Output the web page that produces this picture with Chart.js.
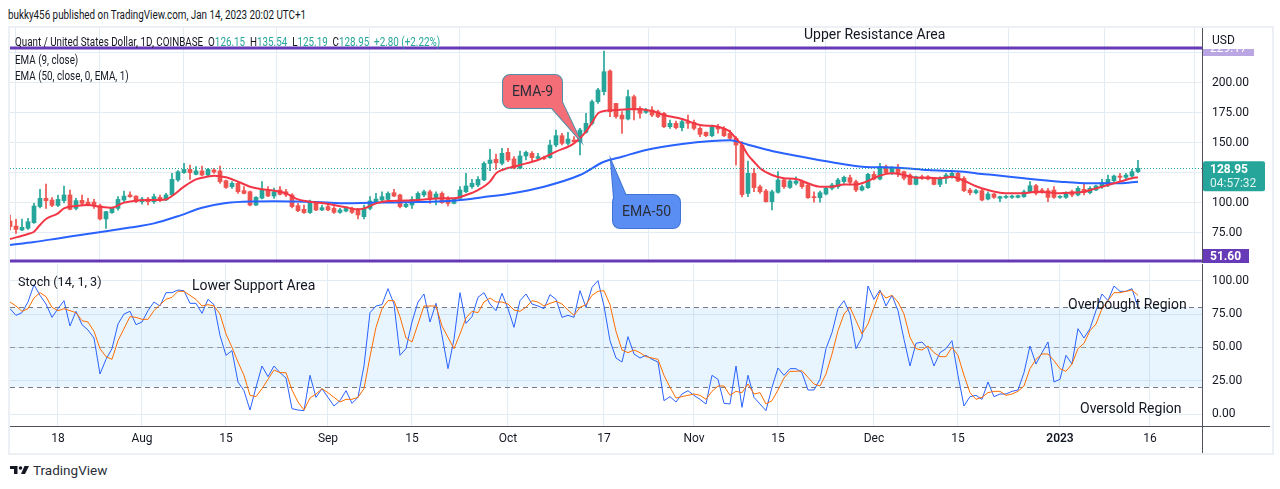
<!DOCTYPE html>
<html>
<head>
<meta charset="utf-8">
<script src="https://cdn.jsdelivr.net/npm/chart.js@4.4.1/dist/chart.umd.min.js"></script>
<style>
body{margin:0;background:#fff;width:1280px;height:489px;position:relative;overflow:hidden;font-family:Roboto,"Noto Sans",sans-serif;color:#131722}
.t{position:absolute;white-space:nowrap;font-size:12px;line-height:14px;z-index:5}
.n{transform:scaleX(0.82);transform-origin:0 0}
.b{font-size:14px;line-height:16px}
.g{color:#26a69a}
canvas{position:absolute}
#frame{position:absolute;left:8px;top:26px;width:1262px;height:425px;border:2px solid #eceff4}
</style>
</head>
<body>
<div id="frame"></div>
<canvas id="main" width="1260" height="235" style="left:10px;top:28px"></canvas>
<canvas id="stoch" width="1260" height="189" style="left:10px;top:264px"></canvas>

<div class="t n" style="left:8px;top:8px">bukky456 published on TradingView.com, Jan 14, 2023 20:02 UTC+1</div>
<div class="t n" style="left:15px;top:35px">Quant / United States Dollar, 1D, COINBASE&nbsp; O<span class="g">126.15</span>&nbsp; H<span class="g">135.54</span>&nbsp; L<span class="g">125.19</span>&nbsp; C<span class="g">128.95</span>&nbsp; <span class="g">+2.80 (+2.22%)</span></div>
<div class="t n" style="left:15px;top:53px">EMA (9, close)</div>
<div class="t n" style="left:15px;top:69px">EMA (50, close, 0, EMA, 1)</div>
<div class="t b" style="left:804px;top:26px">Upper Resistance Area</div>
<div class="t" style="left:18px;top:275px;font-size:12.6px">Stoch (14, 1, 3)</div>
<div class="t b" style="left:192px;top:277px">Lower Support Area</div>
<div class="t b" style="left:1068px;top:296px">Overbought Region</div>
<div class="t b" style="left:1080px;top:400px">Oversold Region</div>
<svg style="position:absolute;left:10px;top:466px" width="20" height="8" viewBox="0 0 40 16">
  <path d="M15 16H8V6H0V0h15v16zM30 16h-8L29 0h9L30 16z" fill="#131722"/>
  <circle cx="21" cy="4" r="3.6" fill="#131722"/>
</svg>
<div class="t" style="left:33px;top:462px;font-size:13.5px;line-height:16px;color:#2a2e39">TradingView</div>

<script>
// day index 0 = Jul 18 2022, one candle per day
var firstDay = -8;

var opens = [85,80.8,77.5,78.9,83.6,97,103.9,102.5,
  98,102,106.7,95.5,102.2,100.8,100.8,97.8,86.7,92,
  95.5,102.5,106.7,105.8,101.1,103.3,101.1,104.7,102.5,106.7,
  119.2,125.3,128,123.9,126.7,123.3,127.5,126.7,118.6,113.6,
  116.4,110.3,109.4,98.3,104,110.8,105.8,110.8,109.4,106.7,
  97.8,94.7,92,100.3,94.2,97,95.5,92.2,93.3,95.5,
  94.7,88.6,95.5,100.3,102.5,103,108.6,106.7,97,98.3,
  103,106.7,109.4,103.9,108,103.9,99.7,103.9,109.4,113.6,
  115,119.2,133,136.4,133,142.2,136.7,128.9,139.2,141.4,
  137.2,137.5,137.8,148.3,156.1,149.7,152.5,151.1,158.9,166.4,
  184.4,192.8,210,183,173.3,170,188.6,178.9,175.5,177.5,
  176.1,174.7,163.6,166.4,162.8,167.8,167.2,162.2,158.9,156.1,
  163.6,162.2,158,153.9,148.3,108,124.7,113.6,110,101.1,
  108.9,119.2,113,116.4,117.8,115,105.3,104.4,107.5,112.2,
  113.6,117.8,121.1,117.8,110.8,112.8,123.9,120,130.3,124.7,
  128.9,126.1,123.3,115.5,121.9,121.9,120.6,115.5,120.6,122,
  124.7,120.6,110.8,108.6,110.3,103.3,107.5,103.9,104.7,104.7,
  104.7,105.3,109.4,114.4,110.8,110.3,110.8,104.7,104.7,109.4,
  106.7,111.4,108.6,110.8,113.6,115,118.6,122.5,121.4,122.5,126.15];

var highs = [90,86.4,86.7,87.2,99.7,111.4,115.8,104.5,
  106.7,114,110.8,103.9,106.7,103.9,103,99,93,96.5,
  105.3,110,109.4,106,104.7,104.7,107.5,106.7,108,124.7,
  127,133,131.7,130.3,130.8,128.9,128.9,130.8,119.2,117.8,
  117.8,113.6,110,105.3,117.8,113.6,112.5,113.6,111.4,107.8,
  99.7,98.3,102.5,101.1,98.3,99.7,97,95.5,96.9,96.5,
  95.5,98.3,105.3,108,109.4,109.4,111.4,107.5,100.3,105.3,
  109.4,110.8,110.8,109.4,109.4,105.3,103.9,113.6,124.7,119.7,
  122,134.4,144.7,140.8,145.6,145.6,138.6,143.3,143.3,142.8,
  141.4,139.2,152.5,160.8,158.1,158.9,155.3,162.2,174.7,185.8,
  195.6,226.7,211,183,176.1,194.2,190,180.3,178.9,180.3,
  177.5,175.5,169.2,168.3,170.6,173.3,169.2,163.6,159.4,165,
  165.6,163.6,160.8,155.3,151.1,135,128.9,115,111.4,110.8,
  126.1,120.6,120.6,121.9,119.2,115.5,109.4,110,113.6,116.4,
  120.6,122.5,123.3,119.2,115,124.7,126.1,133,131.7,130.3,
  132.2,126.7,124.4,122.5,123.3,122.8,121.4,121.9,124.7,127.5,
  126.1,122,112.2,111.4,111.4,109.4,108,105.8,106.7,106.7,
  106.7,110.8,117.8,115.5,112.2,112.2,113.6,106.1,109.4,110.8,
  113.6,116.4,113.6,115,119.7,123.3,123.3,124.7,124.7,128,135.54];

var lows = [77.5,74.7,76.9,78,83,96,95.5,97,
  97,100,94.2,94.2,97.5,97.5,95.5,86,78.9,91.4,
  94,101,104.7,100.3,99,98.3,99.7,101.1,101.9,106.7,
  118,124.7,119.7,123.3,122.5,122.5,124.7,116.4,112.2,112.2,
  108,107.5,97.5,97.8,103.3,105.3,103.9,106.7,105.3,96,
  92.8,91.4,91.4,93.6,93.6,93.6,91.4,91.4,92.5,91.4,
  86.7,86.7,94.2,99.7,101.1,102.5,105.3,96,96.1,95.5,
  101.1,105.3,99.7,98.3,99.7,97.5,99.2,103,108.6,112.2,
  113.6,118.6,127,128,131.7,134.4,128.3,128.3,135.8,134.4,
  135.8,136.1,137.2,147,148.3,148.3,150.6,140,158.1,165,
  183,190,172,170.6,158,169.2,169.2,170.6,174.7,172,
  171.1,162.8,162.2,161.7,160,162.2,160.8,155.3,155.3,155.3,
  158.1,155.3,152.5,131.7,105,105.3,109.4,108,100.6,94.2,
  108.1,112.2,112.2,115,112.2,103.9,100.6,100.6,106.7,110.8,
  112.2,116.4,115,109.4,110,112.2,119.2,119.2,124.7,123.9,
  121.9,119.2,115,115,119.7,119.2,115,113.6,116.4,120.6,
  117.8,109.4,106.7,107.5,101.7,102.5,103.9,101.1,103.9,103.9,
  104.2,104.7,108.6,106.7,108.1,101.1,103.9,103.9,103.9,105.3,
  105.8,106.7,107.5,110.3,112.2,113.6,117.8,117.8,119.7,121.4,125.19];

var closes = [80.3,78,79.7,84.4,97.5,103.9,101.9,98,
  103,106.7,94.7,102,99.7,98.3,98.3,86.7,92.8,95.5,
  103,105.8,105.3,101.1,103.3,101.1,105.3,102,106.7,119.7,
  126.1,128,125.3,126.7,123.3,128,125.8,117.8,113,116.4,
  109.4,108,98.3,104.7,110.8,105.8,109.4,107.2,106.7,97,
  93.6,92,101.1,94.2,96.1,94.2,92.2,94.2,95.5,92.2,
  90,95.5,101.7,103.3,105.3,108,105.8,97,98.9,103,
  108,109.4,103.9,107.5,100.3,99.7,103.9,110.8,114.2,116.4,
  119.7,133,135.8,133.6,141.4,135.8,128.9,139.2,142.2,137.8,
  138.6,136.9,148.3,156.1,149.7,153.3,151.1,160.8,166.4,184.4,
  194.2,209.4,176.1,172,170,188.6,177.5,174.7,177.5,173.3,
  172,163.6,166.4,162.8,167.8,166.4,162.2,157.2,156.1,163.6,
  161.7,156.1,153.9,148.3,107,124.7,112.8,109.4,101.1,109.4,
  119.2,113.6,118.3,118.3,113.6,104.4,104.4,108.6,112.2,115,
  119.2,121.4,117.2,110.8,113.6,123.9,120,130.3,125.3,129.4,
  124.7,120.6,115.5,121.9,120.6,120,115.5,120.6,123.3,124.7,
  118.3,110.3,108.6,110.3,102.5,107.5,104.7,105.3,105.3,105.8,
  106.1,109.4,114.4,108.1,109.4,104.7,104.7,105.3,108.6,106.7,
  112.2,108.6,112.2,114.2,116.9,119.7,122.5,121.4,123.3,126.1,128.95];

var ema9Days = [-8,-5,-4,-3,-2,0,1,3,5,7,9,11,13,15,18,19,21,23,25,26,28,30,32,34,36,38,40,42,45,48,
  50,51,53,55,58,61,64,66,68,70,72,73,74,77,80,83,86,88,89,90,91,93,96,99,101,104,107,110,112,113,
  114,115,116,117,119,121,123,125,127,129,131,133,135,137,139,141,143,145,147,149,151,153,155,157,159,
  161,163,165,167,169,171,173,175,177,179,180];
var ema9 = [70,74.2,76.1,81.7,86.7,91.4,95.5,97.5,98.3,96.9,96.1,100.3,102,102.5,103,105.8,113.6,119.7,122,122.8,
  121.4,117.8,113.6,111.4,110.3,108,103,101.1,99.2,96.4,94.7,95.5,99.7,101.7,102,103,103.9,103.9,106.7,110.8,
  117.8,124.7,127.5,131.7,135.8,142.8,149.7,159.4,167,174.7,176.7,177.5,178.3,176.7,173.3,170,165,163.6,159.4,153.9,
  148.3,140,134.4,128.9,123.3,120.6,120,116.4,113.6,113.6,115.5,115.5,118.3,122.8,124.7,123.3,121.1,121.1,120.6,121.9,
  118.5,114,110.8,108.6,108.1,108.1,109.4,108.9,108.1,108.6,109.4,112.2,115,117.8,120.6,121.4];

var ema50Days = [-8,-4,0,4,8,12,16,20,24,28,32,36,40,44,48,52,56,60,64,68,71,75,81,87,91,
  94,98,104,109,112,115,119,123,129,134,140,145,151,154,156,161,167,172,177,180];
var ema50 = [65,67.5,70.5,73.5,76.5,79.5,83,89,96,100,101.3,101.5,101.2,100.6,99.8,100.2,100.5,100.8,101.5,103,
  105,107.5,113.6,123.3,134.4,138.6,144.2,149.2,151.7,152.3,148.6,143.3,139.4,133.9,130.3,129.4,127.5,126.1,124.2,123.3,
  120.6,117.8,116.4,116.4,117.8];

var stochK = [79,74,76,84,97,89,82.5,72.5,
  79,85,66,77,67,63,57,30,41,49,
  67.5,75,77,67,69,77.5,84,81,91,91,
  93,92.5,83,83,75.5,86,82,59,44,47.5,
  24,17.5,3,20,36,28,36,31,27,4,
  3,2.5,29,12.5,19,12.5,6,10,17.5,8,
  12.5,36,76,81,82,94,82.5,44,49,69,
  84,90,69,83,59,34,56,91,68,73,
  87.5,91,82.5,77.5,90.5,79,65,85,90,82.5,
  81,79,89.5,86,72.5,74,72.5,92.5,80,95,
  100,81,55,42,39,58,45,42,44,41,
  39,10,13,9,15,17.5,14,11,7.5,29,
  26,8,7.5,36,5,29,12.5,7.5,2.5,20,
  34.5,29,34,34,31,18,18,26,49,61,
  79,85,75,49,57.5,96,86,93,81,89,
  77.5,56,36,53,54,49,36,46,49,55,
  29,6,13,14,11,24,13,15,15,17,
  18,31,51,37.5,46,54,24,26,44,37.5,
  64,57,64,77.5,90,85,96,92,92,94,80];

var stochD = [84,81,77,79,87,91,88,80,
  77.5,79,77.5,76,70,69,62,49,43,41,
  55,64,73,72.5,71,71,77.5,82,86,87.5,
  92,92,89,86,81,82,81,75,60,50,
  39,29,14,13,19,26,33,31,31,18,
  9,3,12,15,19,16,12.5,9,11,11,
  12.5,19,43,65,79,85,85,73,57,54,
  67.5,81,81,81,66,57.5,49,60,72,77,
  76,84,87,84,84,82.5,78,77,80,85,
  84,81,83,84.5,82.5,78,74,80,82,89,
  92,92.5,82,62,48,46,48,46,43,42,
  41,29,20,12,13,14,15,14,11,17,
  21,21,14,17,16,22.5,15,16,7.5,10,
  18,27,32,32,32.5,27.5,22.5,21,30,45,
  62.5,75,80,70,60,67.5,80,92,87,89,
  84,75,57.5,49,48,51,46,43,43,50,
  44,29,16,11,12.5,16,17,17,14,15,
  17,21,34,41,45,45,40,34,32,37.5,
  49,53,62.5,67.5,79,85,91,91,92,93,89];

var tickDays = [0,14,28,45,59,75,91,106,120,136,150,167,182];
var tickLabels = ['18','Aug','15','Sep','15','Oct','17','Nov','15','Dec','15','2023','16'];
var priceTicks = [75,100,125,150,175,200,225];
var stochTicks = [0,25,50,75,100];
var lastClose = 128.95;
var resistance = 229.17;
var support = 51.60;

var FONT = 'Roboto, "Noto Sans", sans-serif';
var TXT = '#131722';
var GRID = '#e4ecf3';
var AXIS = '#50535e';
var UP = '#26a69a', DOWN = '#ef5350';
var X_MIN = -8, X_MAX = 190.67;

var bodies = [], wicks = [], colors = [];
for (var i = 0; i < opens.length; i++) {
  var d = firstDay + i;
  bodies.push({x: d, y: [opens[i], closes[i]]});
  wicks.push({x: d, y: [lows[i], highs[i]]});
  colors.push(closes[i] >= opens[i] ? UP : DOWN);
}
function pts(days, vals) { return days.map(function (d, i) { return {x: d, y: vals[i]}; }); }
function daily(vals) { return vals.map(function (v, i) { return {x: firstDay + i, y: v}; }); }

function rr(ctx, x, y, w, h, r) {
  ctx.beginPath();
  ctx.moveTo(x + r, y);
  ctx.arcTo(x + w, y, x + w, y + h, r);
  ctx.arcTo(x + w, y + h, x, y + h, r);
  ctx.arcTo(x, y + h, x, y, r);
  ctx.arcTo(x, y, x + w, y, r);
  ctx.closePath();
}
function callout(ctx, box, tri, fill, stroke, text) {
  ctx.lineWidth = 2;
  ctx.strokeStyle = stroke;
  rr(ctx, box[0], box[1], box[2], box[3], 7); ctx.stroke();
  ctx.beginPath(); ctx.moveTo(tri[0], tri[1]); ctx.lineTo(tri[2], tri[3]); ctx.lineTo(tri[4], tri[5]); ctx.closePath(); ctx.stroke();
  ctx.fillStyle = fill;
  rr(ctx, box[0], box[1], box[2], box[3], 7); ctx.fill();
  ctx.beginPath(); ctx.moveTo(tri[0], tri[1]); ctx.lineTo(tri[2], tri[3]); ctx.lineTo(tri[4], tri[5]); ctx.closePath(); ctx.fill();
  ctx.fillStyle = '#2a2e39';
  ctx.font = '14px ' + FONT;
  ctx.textAlign = 'center'; ctx.textBaseline = 'middle';
  ctx.fillText(text, box[0] + box[2] / 2, box[1] + box[3] / 2 + 1);
}

var mainDeco = {
  id: 'mainDeco',
  afterDatasetsDraw: function (chart) {
    var ctx = chart.ctx, a = chart.chartArea, y = chart.scales.y;
    ctx.save();
    var py = Math.round(y.getPixelForValue(lastClose)) + 0.5;
    ctx.strokeStyle = UP; ctx.lineWidth = 1; ctx.setLineDash([1, 2]);
    ctx.beginPath(); ctx.moveTo(a.left, py); ctx.lineTo(a.right, py); ctx.stroke();
    ctx.setLineDash([]);
    ctx.strokeStyle = '#673ab7'; ctx.lineWidth = 3;
    [resistance, support].forEach(function (v) {
      var yy = y.getPixelForValue(v);
      ctx.beginPath(); ctx.moveTo(a.left, yy); ctx.lineTo(a.right, yy); ctx.stroke();
    });
    // annotation callouts
    callout(ctx, [493, 47, 59, 33], [541, 79, 552, 74, 570, 112], '#f46e77', '#4f8fa8', 'EMA-9');
    callout(ctx, [603, 167, 67, 33], [601, 133, 604, 170, 616, 168], '#5b8ef3', '#3f74d6', 'EMA-50');
    ctx.restore();
  },
  afterDraw: function (chart) {
    var ctx = chart.ctx, a = chart.chartArea, y = chart.scales.y;
    var x0 = a.right;
    ctx.save();
    ctx.font = '12px ' + FONT;
    ctx.textBaseline = 'middle'; ctx.textAlign = 'left';
    // resistance label (mostly hidden under the currency title)
    var ry = y.getPixelForValue(resistance);
    ctx.fillStyle = '#b9a6e3';
    ctx.fillRect(x0 + 1, ry - 7, 51, 15);
    ctx.fillStyle = '#fff';
    ctx.fillText(resistance.toFixed(2), x0 + 8, ry + 1);
    ctx.fillStyle = '#fff';
    ctx.fillRect(x0 + 1, 0, 67, ry + 1);
    ctx.fillStyle = TXT;
    ctx.fillText('USD', x0 + 10, 13);
    // support label, kept inside the pane
    ctx.fillStyle = '#673ab7';
    ctx.fillRect(x0 + 1, a.bottom - 14, 46, 14);
    ctx.fillStyle = '#fff';
    ctx.font = 'bold 12px ' + FONT;
    ctx.fillText(support.toFixed(2), x0 + 8, a.bottom - 6);
    // last price label
    var py = y.getPixelForValue(lastClose);
    ctx.fillStyle = UP;
    rr(ctx, x0 + 1, py - 7, 62, 30, 2); ctx.fill();
    ctx.fillStyle = '#fff';
    ctx.fillText(lastClose.toFixed(2), x0 + 8, py + 1.5);
    ctx.font = '12px ' + FONT;
    ctx.fillStyle = '#dff3f1';
    ctx.fillText('04:57:32', x0 + 8, py + 15.5);
    ctx.restore();
  }
};

var stochDeco = {
  id: 'stochDeco',
  beforeDatasetsDraw: function (chart) {
    var ctx = chart.ctx, a = chart.chartArea, y = chart.scales.y;
    var y80 = y.getPixelForValue(80), y20 = y.getPixelForValue(20), y50 = y.getPixelForValue(50);
    ctx.save();
    ctx.fillStyle = 'rgba(33,150,243,0.1)';
    ctx.fillRect(a.left, y80, a.right - a.left, y20 - y80);
    ctx.lineWidth = 1; ctx.setLineDash([5, 4]);
    ctx.strokeStyle = '#787b86';
    [y80, y20].forEach(function (yy) {
      yy = Math.round(yy) + 0.5;
      ctx.beginPath(); ctx.moveTo(a.left, yy); ctx.lineTo(a.right, yy); ctx.stroke();
    });
    ctx.strokeStyle = '#9598a1';
    var ym = Math.round(y50) + 0.5;
    ctx.beginPath(); ctx.moveTo(a.left, ym); ctx.lineTo(a.right, ym); ctx.stroke();
    ctx.restore();
  },
  afterDraw: function (chart) {
    var ctx = chart.ctx, a = chart.chartArea;
    ctx.save();
    ctx.strokeStyle = AXIS; ctx.lineWidth = 1;
    ctx.beginPath();
    ctx.moveTo(0, Math.round(a.bottom) + 0.5); ctx.lineTo(chart.width, Math.round(a.bottom) + 0.5);
    ctx.moveTo(Math.round(a.right) + 0.5, 0); ctx.lineTo(Math.round(a.right) + 0.5, chart.height);
    ctx.stroke();
    ctx.restore();
  }
};

function xScale(showLabels) {
  return {
    type: 'linear', min: X_MIN, max: X_MAX, offset: false,
    grid: {color: GRID, drawTicks: false},
    border: {display: false},
    ticks: {
      display: showLabels, autoSkip: false, maxRotation: 0, padding: 6, color: TXT,
      font: function (c) { return {family: FONT, size: 12, weight: (c.tick && c.tick.value === 167) ? '600' : '400'}; },
      callback: function (v) { var k = tickDays.indexOf(v); return k < 0 ? '' : tickLabels[k]; }
    },
    afterBuildTicks: function (s) { s.ticks = tickDays.map(function (v) { return {value: v}; }); },
    afterFit: function (s) { s.height = showLabels ? 27 : 0; s.paddingLeft = 0; s.paddingRight = 0; }
  };
}
function yScale(min, max, ticks) {
  return {
    position: 'right', min: min, max: max,
    grid: {color: GRID, drawTicks: false},
    border: {display: true, color: AXIS},
    ticks: {color: TXT, padding: 10, font: {family: FONT, size: 12},
      callback: function (v) { return v.toFixed(2); }},
    afterBuildTicks: function (s) { s.ticks = ticks.map(function (v) { return {value: v}; }); },
    afterFit: function (s) { s.width = 68; s.paddingTop = 0; s.paddingBottom = 0; }
  };
}

new Chart(document.getElementById('main'), {
  type: 'bar',
  data: {
    datasets: [
      {type: 'line', label: 'EMA 9', data: pts(ema9Days, ema9), borderColor: '#f23645', borderWidth: 2,
        pointRadius: 0, cubicInterpolationMode: 'monotone', order: 0},
      {type: 'line', label: 'EMA 50', data: pts(ema50Days, ema50), borderColor: '#2962ff', borderWidth: 2,
        pointRadius: 0, cubicInterpolationMode: 'monotone', order: 1},
      {label: 'body', data: bodies, backgroundColor: colors, barThickness: 4, grouped: false,
        minBarLength: 1, borderWidth: 0, order: 2},
      {label: 'wick', data: wicks, backgroundColor: colors, barThickness: 1, grouped: false,
        borderWidth: 0, order: 3}
    ]
  },
  options: {
    responsive: false, animation: false, events: [],
    layout: {padding: 0},
    plugins: {legend: {display: false}, tooltip: {enabled: false}},
    scales: {x: xScale(false), y: yScale(50, 245.83, priceTicks)}
  },
  plugins: [mainDeco]
});

new Chart(document.getElementById('stoch'), {
  type: 'line',
  data: {
    datasets: [
      {label: '%D', data: daily(stochD), borderColor: '#ff6d00', borderWidth: 1, pointRadius: 0, tension: 0, order: 0},
      {label: '%K', data: daily(stochK), borderColor: '#2962ff', borderWidth: 1, pointRadius: 0, tension: 0, order: 1}
    ]
  },
  options: {
    responsive: false, animation: false, events: [],
    layout: {padding: 0},
    plugins: {legend: {display: false}, tooltip: {enabled: false}},
    scales: {x: xScale(true), y: yScale(-9, 112.5, stochTicks)}
  },
  plugins: [stochDeco]
});
</script>
</body>
</html>
